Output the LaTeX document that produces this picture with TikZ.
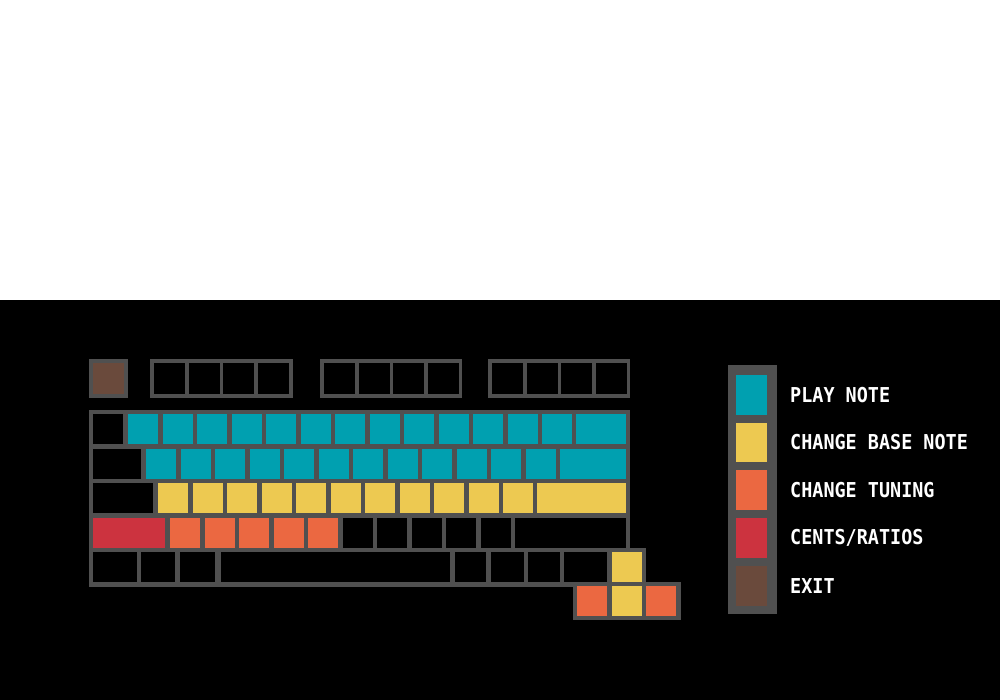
\documentclass[tikz,border=0pt]{standalone}
\usepackage{fontspec}
\usepackage{graphicx}
\newfontfamily\legendfont{DejaVu Sans Mono}
\definecolor{kgrey}{HTML}{505050}
\definecolor{kteal}{HTML}{00A0B0}
\definecolor{kyellow}{HTML}{EDC951}
\definecolor{korange}{HTML}{EB6841}
\definecolor{kred}{HTML}{CC333F}
\definecolor{kbrown}{HTML}{6A4A3C}
\begin{document}
\begin{tikzpicture}[x=1pt,y=-1pt,
  frame/.style={fill=kgrey},
  blank/.style={fill=black},
  playkey/.style={fill=kteal},
  basekey/.style={fill=kyellow},
  tunekey/.style={fill=korange},
  centkey/.style={fill=kred},
  exitkey/.style={fill=kbrown},
  legendtext/.style={anchor=west,text=white,inner sep=0pt,font=\legendfont\bfseries\fontsize{20.5}{20.5}\selectfont}]
\useasboundingbox (0,0) rectangle (1000,700);
\fill[white] (0,0) rectangle (1000,300);
\fill[black] (0,300) rectangle (1000,700);
% function row
\fill[frame] (89,359) rectangle (128,398);
\fill[exitkey] (93,363) rectangle (124,394);
\fill[frame] (150,359) rectangle (292.5,398);
\foreach \x in {154,189,223,258} \fill[blank] (\x,363) rectangle ++(30.5,31);
\fill[frame] (320,359) rectangle (462,398);
\foreach \x in {324,359,393,428} \fill[blank] (\x,363) rectangle ++(30.5,31);
\fill[frame] (488,359) rectangle (630,398);
\foreach \x in {492,527,561,596} \fill[blank] (\x,363) rectangle ++(30.5,31);
% main frame
\fill[frame] (89,410) rectangle (630,552);
\fill[frame] (89,548) rectangle (646,587);
\fill[frame] (573,582) rectangle (681,620);
% row 1
\fill[blank] (93,414) rectangle (123,444);
\foreach \k in {0,...,12} \fill[playkey] (128+\k*34.5,414) rectangle ++(30,30);
\fill[playkey] (576,414) rectangle (626,444);
% row 2
\fill[blank] (93,449) rectangle (141,479);
\foreach \k in {0,...,11} \fill[playkey] (146+\k*34.5,449) rectangle ++(30,30);
\fill[playkey] (560,449) rectangle (626,479);
% row 3
\fill[blank] (93,483) rectangle (153,513);
\foreach \k in {0,...,10} \fill[basekey] (158+\k*34.5,483) rectangle ++(30,30);
\fill[basekey] (537,483) rectangle (626,513);
% row 4
\fill[centkey] (93,518) rectangle (165,548);
\foreach \k in {0,...,4} \fill[tunekey] (170+\k*34.5,518) rectangle ++(30,30);
\foreach \k in {5,...,9} \fill[blank] (170+\k*34.5,518) rectangle ++(30,30);
\fill[blank] (515,518) rectangle (626,548);
% row 5
\fill[blank] (93,552) rectangle (137,582);
\fill[blank] (141,552) rectangle (175,582);
\fill[blank] (180,552) rectangle (215,582);
\fill[blank] (221,552) rectangle (450,582);
\fill[blank] (455,552) rectangle (486,582);
\fill[blank] (491,552) rectangle (524,582);
\fill[blank] (528,552) rectangle (560,582);
\fill[blank] (564,552) rectangle (607,582);
\fill[basekey] (612,552) rectangle (642,582);
% arrow row
\fill[tunekey] (577,586) rectangle (607,616);
\fill[basekey] (612,586) rectangle (642,616);
\fill[tunekey] (646,586) rectangle (676,616);
% legend
\fill[frame] (728,365) rectangle (777,614);
\fill[playkey] (736,375) rectangle (767,415);
\fill[basekey] (736,423) rectangle (767,462);
\fill[tunekey] (736,470) rectangle (767,510);
\fill[centkey] (736,518) rectangle (767,558);
\fill[exitkey] (736,566) rectangle (767,606);
\node[legendtext] (l1) at (790,395.5) {\scalebox{0.9}[1]{PLAY NOTE}};
\node[legendtext] (l2) at (790,442.5) {\scalebox{0.9}[1]{CHANGE BASE NOTE}};
\node[legendtext] (l3) at (790,490) {\scalebox{0.9}[1]{CHANGE TUNING}};
\node[legendtext] (l4) at (790,538) {\scalebox{0.9}[1]{CENTS/RATIOS}};
\node[legendtext] (l5) at (790,586) {\scalebox{0.9}[1]{EXIT}};
\end{tikzpicture}
\end{document}
